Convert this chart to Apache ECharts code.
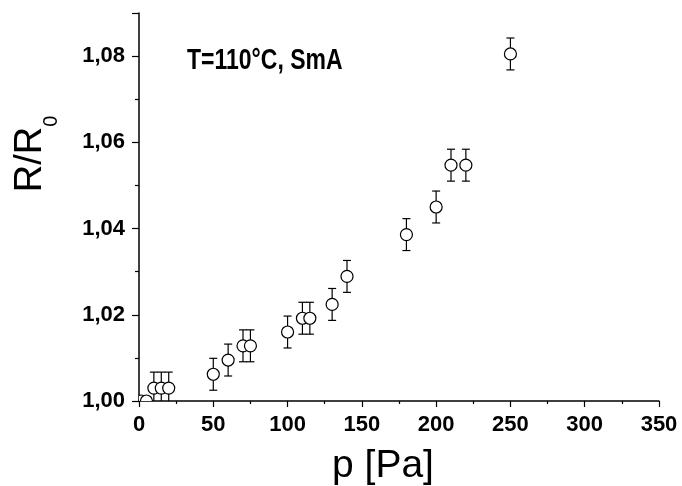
<!DOCTYPE html>
<html>
<head>
<meta charset="utf-8">
<script src="https://cdn.jsdelivr.net/npm/echarts@6/dist/echarts.min.js"></script>
<style>
html,body{margin:0;padding:0;background:#fff;}
#c{width:682px;height:486px;}
</style>
</head>
<body>
<div id="c"></div>
<script>
// Data
var pressure = [1.5, 5, 10, 15, 20, 50, 60, 70, 75, 100, 110, 115, 130, 140, 180, 200, 210, 220, 250];
var ratio = [1.000, 1.000, 1.003, 1.003, 1.003, 1.0062, 1.0095, 1.0128, 1.0128, 1.016, 1.0192, 1.0192, 1.0224, 1.0289, 1.0386, 1.045, 1.0547, 1.0547, 1.0805];
var errors = [0, 0, 0.0037, 0.0037, 0.0037, 0.0037, 0.0037, 0.0037, 0.0037, 0.0037, 0.0037, 0.0037, 0.0037, 0.0037, 0.0037, 0.0037, 0.0037, 0.0037, 0.0037];
var titleText = 'T=110°C, SmA';

var FONT = "'Liberation Sans', Arial, sans-serif";
var data = pressure.map(function (p, i) { return [p, ratio[i], errors[i]]; });

var chart = echarts.init(document.getElementById('c'), null, {renderer: 'canvas'});
chart.setOption({
  animation: false,
  backgroundColor: '#fff',
  graphic: [{
    type: 'text', x: 187, y: 46, scaleY: 1.3,
    style: {text: titleText, fontFamily: FONT, fontWeight: 'bold', fontSize: 23, fill: '#000', verticalAlign: 'top', align: 'left'}
  }],
  grid: {left: 139, right: 23, top: 13, bottom: 85, containLabel: false, outerBoundsMode: 'none'},
  xAxis: {
    type: 'value', min: 0, max: 350, interval: 50,
    name: 'p [Pa]', nameLocation: 'middle', nameGap: 46,
    nameTextStyle: {fontFamily: FONT, fontSize: 39, color: '#000', padding: [0, 32, 0, 0]},
    axisLine: {show: true, onZero: false, lineStyle: {color: '#000', width: 1.5}},
    axisTick: {show: true, inside: false, length: 6, lineStyle: {color: '#000', width: 1.2}},
    minorTick: {show: true, splitNumber: 2, length: 3, lineStyle: {color: '#000', width: 1.2}},
    axisLabel: {fontFamily: FONT, fontWeight: 'bold', fontSize: 22, color: '#000', margin: 13},
    splitLine: {show: false}
  },
  yAxis: {
    type: 'value', min: 1.00, max: 1.09, interval: 0.02,
    name: '{a|R/R}{b|0}', nameLocation: 'middle', nameRotate: 90, nameGap: 78,
    nameTextStyle: {
      fontFamily: FONT, color: '#000', padding: [0, 0, 0, 106],
      rich: {
        a: {fontFamily: FONT, fontSize: 38, color: '#000'},
        b: {fontFamily: FONT, fontSize: 20, color: '#000', padding: [40, 0, 0, 0]}
      }
    },
    axisLine: {show: true, onZero: false, lineStyle: {color: '#000', width: 1.5}},
    axisTick: {show: true, inside: false, length: 7, lineStyle: {color: '#000', width: 1.2}},
    minorTick: {show: true, splitNumber: 2, length: 4, lineStyle: {color: '#000', width: 1.2}},
    axisLabel: {
      fontFamily: FONT, fontWeight: 'bold', fontSize: 22, color: '#000', margin: 14,
      showMaxLabel: false,
      formatter: function (v) {
        if (Math.round(v * 100) % 2 !== 0) return '';
        return v.toFixed(2).replace('.', ',');
      }
    },
    splitLine: {show: false}
  },
  series: [{
    type: 'custom',
    clip: true,
    data: data,
    encode: {x: 0, y: 1},
    renderItem: function (params, api) {
      var x = api.value(0), y = api.value(1), e = api.value(2);
      var c = api.coord([x, y]);
      var cap = 4;
      var ls = {stroke: '#000', lineWidth: 1.2};
      var children = [];
      if (e > 0) {
        var top = api.coord([x, y + e]);
        var bot = api.coord([x, y - e]);
        children.push(
          {type: 'line', shape: {x1: c[0], y1: top[1], x2: c[0], y2: bot[1]}, style: ls},
          {type: 'line', shape: {x1: c[0] - cap, y1: top[1], x2: c[0] + cap, y2: top[1]}, style: ls},
          {type: 'line', shape: {x1: c[0] - cap, y1: bot[1], x2: c[0] + cap, y2: bot[1]}, style: ls}
        );
      }
      children.push({type: 'circle', shape: {cx: c[0], cy: c[1], r: 6}, style: {fill: '#fff', stroke: '#000', lineWidth: 1.2}});
      return {type: 'group', children: children};
    }
  }]
});
</script>
</body>
</html>
